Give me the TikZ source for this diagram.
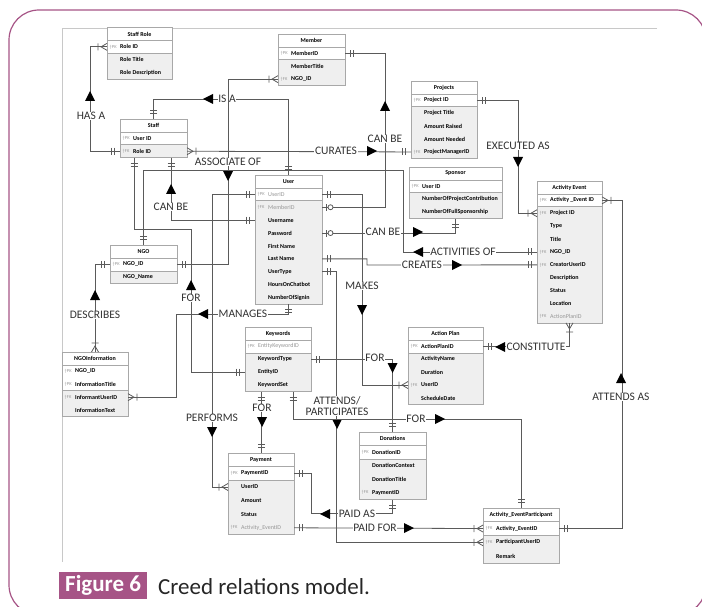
\documentclass[tikz,border=0pt]{standalone}
\usepackage{fontspec}
\setmainfont{Carlito}
\usetikzlibrary{calc}

\definecolor{brand}{RGB}{166,84,134}
\definecolor{wire}{RGB}{90,90,90}
\definecolor{gridgrey}{RGB}{168,168,168}
\definecolor{cellfill}{RGB}{239,239,239}
\definecolor{keygrey}{RGB}{150,150,150}
\definecolor{framegrey}{RGB}{200,200,200}

\newcommand\cellfont{\fontsize{6}{7}\selectfont}
\newcommand\ertb{\bfseries}
\newcommand\ertg{\color{keygrey}}
\newcommand\erpk{†PK}
\newcommand\erfk{†FK}
\newcommand\ernone{}

\tikzset{
  celltitle/.style={fill=white, inner sep=0pt, outer sep=0pt, font=\cellfont\bfseries},
  cellrow/.style={inner sep=0pt, outer sep=0pt},
  cellmark/.style={inner sep=0pt, font=\fontsize{4.5}{5}\selectfont, text=keygrey},
  celltext/.style={inner sep=0pt, font=\cellfont},
  cellline/.style={draw=gridgrey, line width=0.6pt},
  conn/.style={draw=wire, line width=0.8pt},
  relabel/.style={fill=white, inner sep=0.6pt, text=black!80, align=center,
    font=\fontsize{11.5}{11.5}\selectfont},
  mkone/.pic={\draw[conn] (-5.5,-3.5) -- (-5.5,3.5) (-8.5,-3.5) -- (-8.5,3.5);},
  mkmany/.pic={\draw[conn] (0,-3.5) -- (-6,0) -- (0,3.5) (-9,-3.5) -- (-9,3.5);},
  mkzo/.pic={\draw[conn] (-4,-3.5) -- (-4,3.5); \draw[conn, fill=white] (-8.5,0) circle (2.5);},
  relhead/.pic={\fill[black] (5,0) -- (-5,5) -- (-5,-5) -- cycle;},
}

% #1 id, #2 left, #3 top, #4 width, #5 title, #6 key rows, #7 all rows, #8 row height, #9 rows
\newcommand\ertable[9]{%
  \node[celltitle, minimum width=#4pt, minimum height=#8pt, anchor=north west] (#1) at (#2,#3) {#5};
  \foreach [count=\i] \rowkey/\rowmark/\rowlabel/\rowtone in {#9} {
    \pgfmathsetmacro\rowtop{#3+#8*\i}
    \ifnum\i>#6\relax \def\rowfill{cellfill}\else \def\rowfill{white}\fi
    \node[cellrow, fill=\rowfill, minimum width=#4pt, minimum height=#8pt, anchor=north west] (#1-\rowkey) at (#2,\rowtop) {};
    \node[cellmark, anchor=west] at ([xshift=2.5pt]#1-\rowkey.west) {\rowmark};
    \node[celltext, anchor=west] at ([xshift=13pt]#1-\rowkey.west) {\rowtone\rowlabel};
  }
  \draw[cellline] (#2,#3) rectangle ({#2+#4},{#3+#8*(#7+1)});
  \draw[cellline] (#2,{#3+#8}) -- ({#2+#4},{#3+#8});
  \ifnum#6<#7\relax \draw[cellline] (#2,{#3+#8*(#6+1)}) -- ({#2+#4},{#3+#8*(#6+1)});\fi
}

\begin{document}
\begin{tikzpicture}[x=1pt, y=-1pt]
\useasboundingbox (0,0) rectangle (702,607);

% outer frame and the figure's own border
\draw[brand, line width=1.2pt, rounded corners=30pt] (9,10) rectangle (706,615);
\draw[framegrey, line width=0.6pt] (657,28) -- (62,28) -- (62,562);

% entity tables
\ertable{staffrole}{107}{27.5}{65}{Staff Role}{1}{3}{12.9}{roleid/\erpk/Role ID/\ertb, title/\ernone/Role Title/\ertb, desc/\ernone/Role Description/\ertb}
\ertable{member}{278}{34}{67}{Member}{1}{3}{12.9}{memberid/\erpk/MemberID/\ertb, title/\ernone/MemberTitle/\ertb, ngoid/\erfk/NGO\_ID/\ertb}
\ertable{staff}{120}{119}{67}{Staff}{1}{2}{12.9}{userid/\erpk/User ID/\ertb, roleid/\erfk/Role ID/\ertb}
\ertable{user}{255}{175}{67}{User}{1}{9}{12.9}{userid/\erpk/UserID/\ertg, memberid/\erfk/MemberID/\ertg, username/\ernone/Username/\ertb, password/\ernone/Password/\ertb, firstname/\ernone/First Name/\ertb, lastname/\ernone/Last Name/\ertb, usertype/\ernone/UserType/\ertb, hours/\ernone/HoursOnChatbot/\ertb, signin/\ernone/NumberOfSignin/\ertb}
\ertable{projects}{411}{81}{66}{Projects}{1}{5}{12.9}{projectid/\erpk/Project ID/\ertb, title/\ernone/Project Title/\ertb, raised/\ernone/Amount Raised/\ertb, needed/\ernone/Amount Needed/\ertb, manager/\erfk/ProjectManagerID/\ertb}
\ertable{sponsor}{409}{167}{93}{Sponsor}{1}{3}{12.9}{userid/\erpk/User ID/\ertb, contrib/\ernone/NumberOfProjectContribution/\ertb, full/\ernone/NumberOfFullSponsorship/\ertb}
\ertable{activity}{537}{181}{65}{Activity Event}{1}{10}{12.9}{eventid/\erpk/Activity \_Event ID/\ertb, projectid/\erfk/Project ID/\ertb, type/\ernone/Type/\ertb, title/\ernone/Title/\ertb, ngoid/\erfk/NGO\_ID/\ertb, creator/\erfk/CreatorUserID/\ertb, desc/\ernone/Description/\ertb, status/\ernone/Status/\ertb, location/\ernone/Location/\ertb, actionplan/\erfk/ActionPlanID/\ertg}
\ertable{ngo}{110}{245}{67}{NGO}{1}{2}{12.9}{ngoid/\erpk/NGO\_ID/\ertb, name/\ernone/NGO\_Name/\ertb}
\ertable{ngoinfo}{62}{352}{66}{NGOInformation}{2}{4}{12.9}{ngoid/\erpk/NGO\_ID/\ertb, title/\erpk/InformationTitle/\ertb, informant/\erfk/InformantUserID/\ertb, text/\ernone/InformationText/\ertb}
\ertable{keywords}{245}{327}{66}{Keywords}{1}{4}{12.9}{ekid/\erpk/EntityKeywordID/\ertg, type/\ernone/KeywordType/\ertb, entity/\ernone/EntityID/\ertb, set/\ernone/KeywordSet/\ertb}
\ertable{actionplan}{408}{327}{75}{Action Plan}{1}{5}{12.9}{apid/\erpk/ActionPlanID/\ertb, name/\ernone/ActivityName/\ertb, duration/\ernone/Duration/\ertb, userid/\erfk/UserID/\ertb, date/\ernone/ScheduleDate/\ertb}
\ertable{donations}{359}{432}{67}{Donations}{1}{4}{13.5}{donid/\erpk/DonationID/\ertb, context/\ernone/DonationContext/\ertb, title/\ernone/DonationTitle/\ertb, paymentid/\erfk/PaymentID/\ertb}
\ertable{payment}{228}{453}{66}{Payment}{1}{5}{13.6}{payid/\erpk/PaymentID/\ertb, userid/\ernone/UserID/\ertb, amount/\ernone/Amount/\ertb, status/\ernone/Status/\ertb, eventid/\erfk/Activity\_EventID/\ertg}
\ertable{aep}{483}{508}{76}{Activity\_EventParticipant}{1}{3}{13.7}{eventid/\erfk/Activity\_EventID/\ertb, participant/\erfk/ParticipantUserID/\ertb, remark/\ernone/Remark/\ertb}

% HAS A
\draw[conn] (staffrole-roleid.west) -- ++(-17,0) |- (staff-roleid.west);
\pic at (staffrole-roleid.west) {mkmany};
\pic at (staff-roleid.west) {mkone};
\node[relabel] (l-hasa) at (91,116) {HAS A};
\pic[rotate=90] at (90,96) {relhead};

% IS A
\draw[conn] (staff.north) -- ++(0,-20) -| (user.north);
\pic[rotate=-90] at (staff.north) {mkone};
\pic[rotate=-90] at (user.north) {mkone};
\node[relabel] (l-isa) at (227,99) {IS A};
\pic[rotate=180] at (208,99) {relhead};

% ASSOCIATE OF
\draw[conn] (member-ngoid.west) -| ([xshift=51pt]ngo-ngoid.east) -- (ngo-ngoid.east);
\pic at (member-ngoid.west) {mkmany};
\pic[rotate=180] at (ngo-ngoid.east) {mkone};
\node[relabel] (l-assoc) at (228,162) {ASSOCIATE OF};
\pic[rotate=-90] at (228,176) {relhead};

% CAN BE (member)
\draw[conn] (member-memberid.east) -| ([xshift=63pt]user-memberid.east) -- (user-memberid.east);
\pic[rotate=180] at (member-memberid.east) {mkone};
\pic[rotate=180] at (user-memberid.east) {mkzo};
\node[relabel] (l-canbe1) at (385,139) {CAN BE};
\pic[rotate=90] at (385,106) {relhead};

% CURATES
\draw[conn] (staff-roleid.east) -- (projects-manager.west);
\pic[rotate=180] at (staff-roleid.east) {mkmany};
\pic at (projects-manager.west) {mkone};
\node[relabel] (l-curates) at (336,151) {CURATES};
\pic at (372,151) {relhead};

% EXECUTED AS
\draw[conn] (projects-projectid.east) -| ([xshift=-19pt]activity-projectid.west) -- (activity-projectid.west);
\pic[rotate=180] at (projects-projectid.east) {mkone};
\pic at (activity-projectid.west) {mkmany};
\node[relabel] (l-exec) at (518,146) {EXECUTED AS};
\pic[rotate=-90] at (518,162) {relhead};

% CAN BE (sponsor)
\draw[conn] (user-password.east) -| (sponsor-full.south);
\pic[rotate=180] at (user-password.east) {mkzo};
\pic[rotate=90] at (sponsor-full.south) {mkone};
\node[relabel] (l-canbe2) at (383,232) {CAN BE};
\pic at (418,232) {relhead};

% ACTIVITIES OF
\draw[conn] (activity-ngoid.west) -| (403,170) -| (ngo.north);
\pic at (activity-ngoid.west) {mkone};
\pic[rotate=-90] at (ngo.north) {mkone};
\node[relabel] (l-actof) at (463,252) {ACTIVITIES OF};
\pic[rotate=180] at (418,252) {relhead};

% CREATES
\draw[conn] (user-lastname.east) -| (367,265) -- (activity-creator.west);
\pic[rotate=180] at (user-lastname.east) {mkone};
\pic at (activity-creator.west) {mkone};
\node[relabel] (l-creates) at (422,265) {CREATES};
\pic at (457,265) {relhead};

% CAN BE (staff)
\draw[conn] ([xshift=17.5pt]staff-roleid.south) |- (user-username.west);
\pic[rotate=90] at ([xshift=17.5pt]staff-roleid.south) {mkone};
\pic at (user-username.west) {mkone};
\node[relabel] (l-canbe3) at (171,207) {CAN BE};
\pic[rotate=90] at (171,189) {relhead};

% FOR (staff - keywords)
\draw[conn] ([xshift=-19.5pt]staff-roleid.south) |- (191,229) |- (keywords-entity.west);
\pic[rotate=90] at ([xshift=-19.5pt]staff-roleid.south) {mkone};
\pic at (keywords-entity.west) {mkone};
\node[relabel] (l-for1) at (191,298) {FOR};
\pic[rotate=90] at (191,285) {relhead};

% MANAGES
\draw[conn] (user-signin.south) |- (176,314) |- (ngoinfo-informant.east);
\pic[rotate=90] at (user-signin.south) {mkone};
\pic[rotate=180] at (ngoinfo-informant.east) {mkmany};
\node[relabel] (l-manages) at (243,314) {MANAGES};
\pic[rotate=180] at (203,314) {relhead};

% DESCRIBES
\draw[conn] (ngo-ngoid.west) -| (ngoinfo.north);
\pic at (ngo-ngoid.west) {mkone};
\pic[rotate=-90] at (ngoinfo.north) {mkmany};
\node[relabel] (l-describes) at (95,315) {DESCRIBES};
\pic[rotate=90] at (95,295) {relhead};

% PERFORMS
\draw[conn] (user-userid.west) -| ([xshift=-16pt]payment-userid.west) -- (payment-userid.west);
\pic at (user-userid.west) {mkone};
\pic at (payment-userid.west) {mkmany};
\node[relabel] (l-performs) at (212,418) {PERFORMS};
\pic[rotate=-90] at (212,432) {relhead};

% MAKES
\draw[conn] (user-userid.east) -| ([xshift=-46pt]actionplan-userid.west) -- (actionplan-userid.west);
\pic[rotate=180] at (user-userid.east) {mkone};
\pic at (actionplan-userid.west) {mkmany};
\node[relabel] (l-makes) at (362,286) {MAKES};
\pic[rotate=-90] at (362,310) {relhead};

% ATTENDS/PARTICIPATES
\draw[conn] (user-usertype.east) -| ([xshift=-147pt]aep-participant.west) -- (aep-participant.west);
\pic[rotate=180] at (user-usertype.east) {mkone};
\pic at (aep-participant.west) {mkmany};
\node[relabel] (l-attends) at (337,406) {ATTENDS/\\PARTICIPATES};
\pic[rotate=-90] at (337,424) {relhead};

% FOR (keywords - payment)
\draw[conn] (payment.north |- keywords-set.south) -- (payment.north);
\pic[rotate=90] at (payment.north |- keywords-set.south) {mkone};
\pic[rotate=-90] at (payment.north) {mkone};
\node[relabel] (l-for2) at (262,408) {FOR};
\pic[rotate=-90] at (262,422) {relhead};

% FOR (keywords - participant)
\draw[conn] ([xshift=-18pt]keywords-set.south east) -- ++(0,28) -| (aep.north);
\pic[rotate=90] at ([xshift=-18pt]keywords-set.south east) {mkone};
\pic[rotate=-90] at (aep.north) {mkone};
\node[relabel] (l-for3) at (416,419) {FOR};
\pic at (440,419) {relhead};

% FOR (keywords - donations)
\draw[conn] (keywords-type.east) -| (donations.north);
\pic[rotate=180] at (keywords-type.east) {mkone};
\pic[rotate=-90] at (donations.north) {mkone};
\node[relabel] (l-for4) at (375,358) {FOR};
\pic[rotate=-90] at (392.5,368) {relhead};

% CONSTITUTE
\draw[conn] (activity-actionplan.south) |- (actionplan-apid.east);
\pic[rotate=90] at (activity-actionplan.south) {mkmany};
\pic[rotate=180] at (actionplan-apid.east) {mkone};
\node[relabel] (l-constitute) at (536,347) {CONSTITUTE};
\pic[rotate=180] at (500,347) {relhead};

% ATTENDS AS
\draw[conn] (activity-eventid.east) -| ([xshift=63pt]aep-eventid.east) -- (aep-eventid.east);
\pic[rotate=180] at (activity-eventid.east) {mkmany};
\pic[rotate=180] at (aep-eventid.east) {mkone};
\node[relabel] (l-attendsas) at (621,397) {ATTENDS AS};
\pic[rotate=90] at (621,378) {relhead};

% PAID AS
\draw[conn] (payment-payid.east) -- ++(17,0) |- ([yshift=-14pt]donations-paymentid.south) -- (donations-paymentid.south);
\pic[rotate=180] at (payment-payid.east) {mkone};
\pic[rotate=90] at (donations-paymentid.south) {mkone};
\node[relabel] (l-paidas) at (357,514) {PAID AS};
\pic[rotate=180] at (325,514) {relhead};

% PAID FOR
\draw[conn] (payment-eventid.east) -- (aep-eventid.west);
\pic[rotate=180] at (payment-eventid.east) {mkone};
\pic at (aep-eventid.west) {mkmany};
\node[relabel] (l-paidfor) at (375,528) {PAID FOR};
\pic at (409,528) {relhead};

% caption
\node[fill=brand, text=white, font=\bfseries\fontsize{23}{26}\selectfont, inner xsep=6pt, inner ysep=0pt, minimum height=27pt, anchor=west] (figtag) at (59,585.5) {Figure 6};
\node[font=\fontsize{23}{26}\selectfont, anchor=base west, inner sep=0pt, text=black!85] (figcaption) at (158,594) {Creed relations model.};
\end{tikzpicture}
\end{document}
